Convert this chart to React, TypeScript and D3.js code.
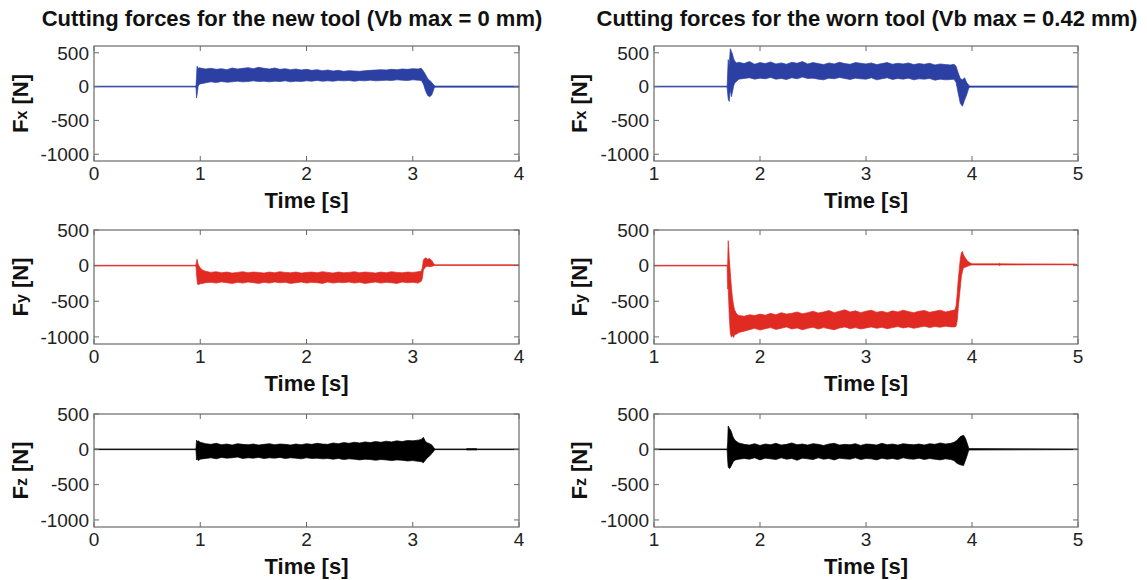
import React from "react";
import * as d3 from "d3";

// ---------- Data (envelopes) ----------
const newTicksX = [0, 1, 2, 3, 4];
const wornTicksX = [1, 2, 3, 4, 5];
const forceTicks = [-1000, -500, 0, 500];

// New tool, Fx
const newFxTime = [0, 0.95, 0.96, 0.965, 0.97, 0.975, 0.98, 0.99, 1.0,
  1.05, 1.1, 1.15, 1.2, 1.25, 1.3, 1.35, 1.4, 1.45, 1.5, 1.55, 1.6, 1.65, 1.7, 1.75, 1.8, 1.85, 1.9, 1.95, 2.0,
  2.05, 2.1, 2.15, 2.2, 2.25, 2.3, 2.35, 2.4, 2.45, 2.5, 2.55, 2.6, 2.65, 2.7, 2.75, 2.8, 2.85, 2.9, 2.95, 3.0, 3.05,
  3.08, 3.1, 3.12, 3.14, 3.16, 3.18, 3.2, 3.21, 4.0];
const newFxHigh = [6, 6, 10, 150, 300, 290, 260, 280, 275,
  260, 270, 255, 265, 250, 275, 260, 270, 280, 265, 285, 270, 260, 275, 255, 265, 250, 260, 245, 255,
  240, 250, 235, 245, 230, 240, 225, 235, 230, 225, 235, 240, 245, 250, 245, 255, 250, 260, 255, 265, 260,
  270, 230, 180, 120, 90, 60, 20, 8, 8];
const newFxLow = [-6, -6, -10, -170, -120, -60, 10, 30, 40,
  55, 70, 60, 75, 65, 70, 80, 70, 75, 85, 75, 80, 70, 80, 75, 85, 70, 80, 75, 85,
  80, 90, 80, 85, 80, 90, 85, 90, 80, 90, 85, 95, 85, 90, 95, 90, 100, 95, 90, 100, 95,
  90, 40, -60, -130, -150, -120, -30, -8, -8];

// Worn tool, Fx
const wornFxTime = [1.0, 1.68, 1.69, 1.695, 1.7, 1.71, 1.715, 1.72, 1.73, 1.74, 1.75, 1.76, 1.78,
  1.8, 1.85, 1.9, 1.95, 2.0, 2.05, 2.1, 2.15, 2.2, 2.25, 2.3, 2.35, 2.4, 2.45, 2.5, 2.55, 2.6, 2.65, 2.7, 2.75,
  2.8, 2.85, 2.9, 2.95, 3.0, 3.05, 3.1, 3.15, 3.2, 3.25, 3.3, 3.35, 3.4, 3.45, 3.5, 3.55, 3.6, 3.65, 3.7, 3.75, 3.8,
  3.83, 3.85, 3.87, 3.89, 3.91, 3.93, 3.95, 3.97, 3.98, 5.0];
const wornFxHigh = [6, 6, 10, 200, 400, 300, 450, 560, 520, 480, 420, 380, 350,
  360, 340, 370, 330, 355, 340, 365, 335, 350, 330, 360, 345, 370, 335, 355, 340, 325, 350, 335, 360,
  340, 330, 355, 345, 335, 350, 325, 340, 355, 330, 345, 335, 350, 325, 340, 330, 345, 320, 335, 325, 320,
  330, 300, 200, 120, 100, 130, 60, 20, 8, 8];
const wornFxLow = [-6, -6, -10, -100, -180, -220, -100, -50, -150, -80, 0, 50, 80,
  110, 120, 130, 110, 125, 115, 135, 110, 120, 105, 130, 115, 140, 120, 125, 110, 100, 125, 115, 135,
  120, 105, 125, 115, 110, 130, 100, 115, 130, 105, 120, 110, 125, 100, 115, 110, 120, 95, 110, 100, 105,
  110, 60, -100, -250, -290, -200, -120, -20, -8, -8];

// New tool, Fy
const newFyTime = [0, 0.95, 0.96, 0.965, 0.97, 0.975, 0.98, 0.99, 1.0, 1.02, 1.05,
  1.1, 1.15, 1.2, 1.25, 1.3, 1.35, 1.4, 1.45, 1.5, 1.55, 1.6, 1.65, 1.7, 1.75, 1.8, 1.85, 1.9, 1.95, 2.0,
  2.05, 2.1, 2.15, 2.2, 2.25, 2.3, 2.35, 2.4, 2.45, 2.5, 2.55, 2.6, 2.65, 2.7, 2.75, 2.8, 2.85, 2.9, 2.95, 3.0, 3.05,
  3.08, 3.09, 3.1, 3.12, 3.14, 3.16, 3.18, 3.2, 3.21, 4.0];
const newFyHigh = [5, 5, 8, 60, 90, 50, 20, -10, -30, -60, -80,
  -95, -85, -100, -90, -105, -95, -85, -100, -90, -95, -105, -90, -100, -85, -95, -100, -90, -105, -95,
  -90, -100, -85, -95, -105, -90, -100, -95, -85, -100, -90, -95, -105, -90, -100, -85, -95, -100, -90, -95, -85,
  -80, -30, 80, 110, 90, 100, 70, 20, 12, 12];
const newFyLow = [-5, -5, -8, -120, -200, -260, -270, -260, -255, -250, -240,
  -235, -245, -230, -240, -250, -235, -245, -230, -240, -250, -235, -245, -230, -240, -235, -250, -240, -230, -245,
  -235, -240, -250, -230, -245, -235, -240, -230, -245, -235, -250, -240, -230, -245, -235, -240, -250, -230, -240, -235, -245,
  -220, -180, -60, -20, -10, -15, -10, 0, 2, 2];

// Worn tool, Fy
const wornFyTime = [1.0, 1.69, 1.695, 1.7, 1.705, 1.71, 1.72, 1.73, 1.74, 1.75, 1.76, 1.78, 1.8,
  1.85, 1.9, 1.95, 2.0, 2.05, 2.1, 2.15, 2.2, 2.25, 2.3, 2.35, 2.4, 2.45, 2.5, 2.55, 2.6, 2.65, 2.7, 2.75, 2.8,
  2.85, 2.9, 2.95, 3.0, 3.05, 3.1, 3.15, 3.2, 3.25, 3.3, 3.35, 3.4, 3.45, 3.5, 3.55, 3.6, 3.65, 3.7, 3.75, 3.8,
  3.84, 3.85, 3.86, 3.87, 3.88, 3.89, 3.9, 3.91, 3.92, 3.94, 3.96, 3.98, 4.0, 4.25, 4.26, 4.27, 4.98, 5.0];
const wornFyHigh = [5, 5, 10, 350, 250, 100, -100, -300, -450, -550, -620, -680, -700,
  -710, -690, -700, -680, -695, -670, -690, -660, -680, -670, -650, -675, -660, -640, -665, -650, -630, -660, -640, -620,
  -650, -635, -660, -640, -625, -655, -640, -660, -635, -650, -625, -645, -660, -640, -630, -655, -640, -625, -650, -635,
  -620, -560, -400, -200, -50, 100, 180, 200, 150, 100, 60, 40, 25, 25, 35, 25, 22, 5];
const wornFyLow = [-5, -5, -330, -300, -500, -700, -950, -1000, -980, -1010, -970, -960, -940,
  -920, -900, -880, -905, -885, -870, -895, -880, -860, -890, -875, -900, -880, -865, -890, -870, -885, -900, -875, -860,
  -885, -870, -890, -875, -860, -880, -865, -885, -870, -855, -875, -860, -880, -865, -850, -870, -855, -865, -850, -860,
  -860, -850, -780, -600, -450, -300, -150, -80, -30, -20, -10, 5, 10, 10, 0, 10, 12, -5];

// New tool, Fz
const newFzTime = [0, 0.95, 0.96, 0.965, 0.97, 0.98, 1.0,
  1.05, 1.1, 1.15, 1.2, 1.25, 1.3, 1.35, 1.4, 1.45, 1.5, 1.55, 1.6, 1.65, 1.7, 1.75, 1.8, 1.85, 1.9, 1.95, 2.0,
  2.05, 2.1, 2.15, 2.2, 2.25, 2.3, 2.35, 2.4, 2.45, 2.5, 2.55, 2.6, 2.65, 2.7, 2.75, 2.8, 2.85, 2.9, 2.95, 3.0, 3.05,
  3.08, 3.1, 3.12, 3.14, 3.16, 3.18, 3.2, 3.21, 3.5, 3.51, 3.6, 3.61, 4.0];
const newFzHigh = [5, 5, 8, 130, 110, 120, 100,
  80, 70, 85, 65, 75, 60, 80, 70, 65, 75, 60, 70, 80, 65, 75, 70, 60, 75, 65, 80,
  70, 85, 75, 70, 90, 80, 95, 85, 100, 90, 105, 95, 110, 100, 115, 105, 120, 110, 125, 120, 130,
  140, 170, 110, 90, 80, 60, 20, 5, 5, 10, 10, 5, 5];
const newFzLow = [-5, -5, -8, -150, -130, -160, -140,
  -130, -120, -135, -115, -125, -120, -110, -130, -120, -125, -115, -130, -120, -125, -115, -130, -120, -125, -135, -120,
  -130, -125, -135, -130, -140, -130, -145, -135, -140, -150, -140, -145, -155, -145, -150, -160, -150, -155, -165, -160, -170,
  -175, -190, -150, -120, -90, -60, -20, -5, -5, -10, -10, -5, -5];

// Worn tool, Fz
const wornFzTime = [1.0, 1.69, 1.695, 1.7, 1.71, 1.72, 1.73, 1.74, 1.75, 1.77, 1.8,
  1.85, 1.9, 1.95, 2.0, 2.05, 2.1, 2.15, 2.2, 2.25, 2.3, 2.35, 2.4, 2.45, 2.5, 2.55, 2.6, 2.65, 2.7, 2.75, 2.8,
  2.85, 2.9, 2.95, 3.0, 3.05, 3.1, 3.15, 3.2, 3.25, 3.3, 3.35, 3.4, 3.45, 3.5, 3.55, 3.6, 3.65, 3.7, 3.75, 3.8,
  3.83, 3.86, 3.89, 3.92, 3.94, 3.96, 3.97, 5.0];
const wornFzHigh = [5, 5, 100, 330, 300, 280, 250, 200, 160, 120, 90,
  70, 60, 80, 55, 75, 65, 85, 60, 70, 90, 65, 75, 60, 80, 70, 55, 75, 85, 60, 70,
  65, 80, 55, 75, 70, 60, 85, 65, 75, 60, 80, 70, 65, 75, 60, 80, 70, 90, 75, 85,
  100, 130, 180, 200, 150, 60, 10, 5];
const wornFzLow = [-5, -5, -150, -250, -270, -260, -230, -200, -170, -150, -140,
  -130, -140, -120, -150, -125, -135, -145, -120, -140, -130, -155, -125, -135, -145, -120, -140, -130, -150, -125, -135,
  -140, -120, -145, -130, -135, -150, -125, -140, -130, -145, -120, -135, -140, -125, -145, -130, -140, -150, -135, -145,
  -160, -200, -220, -230, -150, -60, -10, -5];

// ---------- Layout ----------
const FONT = "'Liberation Sans', Arial, Helvetica, sans-serif";
const BLUE = "#2c3fa3";
const RED = "#e02a22";
const BLACK = "#000000";

const cols = [
  { x0: 94, x1: 519, domain: [0, 4], ticks: newTicksX, labelX: 20, titleX: 292,
    title: "Cutting forces for the new tool (Vb max = 0 mm)" },
  { x0: 654, x1: 1078, domain: [1, 5], ticks: wornTicksX, labelX: 579, titleX: 867,
    title: "Cutting forces for the worn tool (Vb max = 0.42 mm)" },
];
const rows = [
  { top: 46, bottom: 161, domain: [-1100, 600], sub: "x", color: BLUE },
  { top: 230, bottom: 344, domain: [-1100, 500], sub: "y", color: RED },
  { top: 414, bottom: 527, domain: [-1100, 500], sub: "z", color: BLACK },
];
const series = [
  [[newFxTime, newFxHigh, newFxLow], [wornFxTime, wornFxHigh, wornFxLow]],
  [[newFyTime, newFyHigh, newFyLow], [wornFyTime, wornFyHigh, wornFyLow]],
  [[newFzTime, newFzHigh, newFzLow], [wornFzTime, wornFzHigh, wornFzLow]],
];

function Panel({ col, row, data }: any) {
  const x = d3.scaleLinear().domain(col.domain).range([col.x0, col.x1]);
  const y = d3.scaleLinear().domain(row.domain).range([row.bottom, row.top]);
  const [t, hi, lo] = data;
  const pts = t.map((tt: number, i: number) => ({ t: tt, h: hi[i], l: lo[i] }));
  const area = d3.area<any>()
    .defined((d) => d.h != null && d.l != null)
    .x((d) => x(d.t))
    .y0((d) => y(d.l))
    .y1((d) => y(d.h));
  const tick = 5;
  const boxColor = "#6a6a6a";
  const cy = (row.top + row.bottom) / 2;
  return (
    <g>
      <path d={area(pts) || ""} fill={row.color} stroke={row.color} strokeWidth={0.7} />
      <rect x={col.x0} y={row.top} width={col.x1 - col.x0} height={row.bottom - row.top}
        fill="none" stroke={boxColor} strokeWidth={1.2} />
      {col.ticks.map((v: number) => (
        <g key={"xt" + v}>
          <line x1={x(v)} x2={x(v)} y1={row.bottom} y2={row.bottom - tick} stroke={boxColor} />
          <line x1={x(v)} x2={x(v)} y1={row.top} y2={row.top + tick} stroke={boxColor} />
          <text x={x(v)} y={row.bottom + 19} textAnchor="middle" fontSize={19} fill="#222">{v}</text>
        </g>
      ))}
      {forceTicks.map((v) => (
        <g key={"yt" + v}>
          <line x1={col.x0} x2={col.x0 + tick} y1={y(v)} y2={y(v)} stroke={boxColor} />
          <line x1={col.x1} x2={col.x1 - tick} y1={y(v)} y2={y(v)} stroke={boxColor} />
          <text x={col.x0 - 5} y={y(v) + 6.8} textAnchor="end" fontSize={19} fill="#222">{v}</text>
        </g>
      ))}
      <text x={(col.x0 + col.x1) / 2} y={row.bottom + 47} textAnchor="middle" fontSize={22}
        fontWeight="bold" fill="#111">Time [s]</text>
      <text transform={`translate(${col.labelX + 8},${cy}) rotate(-90)`} textAnchor="middle"
        fontSize={22} fontWeight="bold" fill="#111">
        F<tspan fontSize={16} dy={-1}>{row.sub}</tspan><tspan dy={1}> [N]</tspan>
      </text>
    </g>
  );
}

export default function App() {
  return (
    <svg width={1147} height={580} style={{ position: "absolute", left: 0, top: 0, background: "#fff" }}
      fontFamily={FONT}>
      <rect width={1147} height={580} fill="#fff" />
      {cols.map((c, ci) => (
        <text key={"title" + ci} x={c.titleX} y={26} textAnchor="middle" fontSize={22}
          fontWeight="bold" fill="#111">{c.title}</text>
      ))}
      {rows.map((r, ri) => cols.map((c, ci) => (
        <Panel key={ri + "-" + ci} col={c} row={r} data={series[ri][ci]} />
      )))}
    </svg>
  );
}
